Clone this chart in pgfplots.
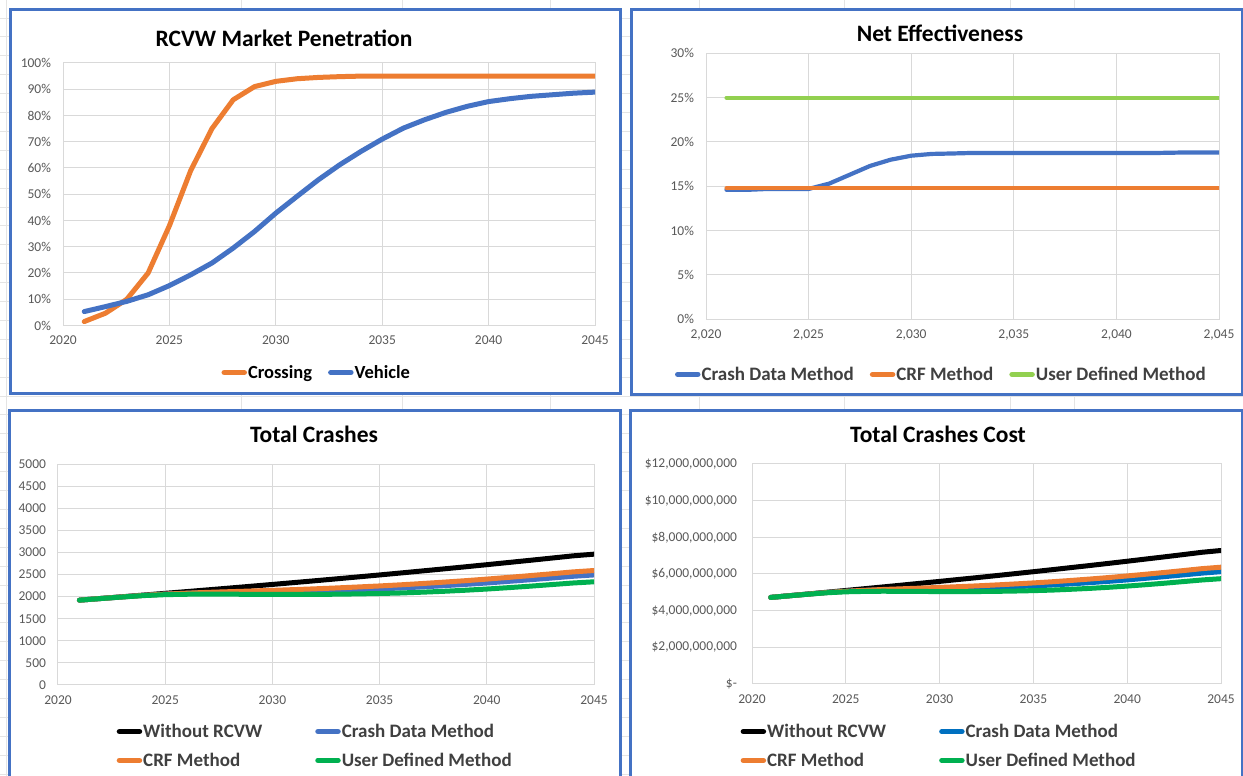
\documentclass[border=0pt]{standalone}
\usepackage{fontspec}
\setmainfont{Carlito}
\usepackage{pgfplots}
\usepackage{pgfplotstable}
\pgfplotsset{compat=1.18}

\definecolor{xlblue}{HTML}{4472C4}
\definecolor{xlorange}{HTML}{ED7D31}
\definecolor{xllime}{HTML}{92D050}
\definecolor{xlgreen}{HTML}{00B050}
\definecolor{xlblue2}{HTML}{0070C0}
\definecolor{gridgray}{HTML}{D9D9D9}
\definecolor{tickgray}{HTML}{595959}
\definecolor{leggray}{HTML}{404040}
\definecolor{sheetgray}{HTML}{E4E4E4}

% market penetration, percent
\pgfplotstableread{
year cross veh
2021 1.5 5.3
2022 4.7 7.2
2023 10.0 9.2
2024 20.0 11.7
2025 38.0 15.2
2026 59.0 19.3
2027 75.0 23.8
2028 86.0 29.5
2029 91.0 35.8
2030 93.0 42.8
2031 94.0 49.2
2032 94.5 55.5
2033 94.8 61.2
2034 95.0 66.3
2035 95.0 71.0
2036 95.0 75.2
2037 95.0 78.4
2038 95.0 81.2
2039 95.0 83.5
2040 95.0 85.3
2041 95.0 86.4
2042 95.0 87.3
2043 95.0 87.9
2044 95.0 88.5
2045 95.0 88.9
}\penetration

% net effectiveness, percent
\pgfplotstableread{
year crash crf user
2021 14.6 14.8 25
2022 14.6 14.8 25
2023 14.7 14.8 25
2024 14.7 14.8 25
2025 14.7 14.8 25
2026 15.3 14.8 25
2027 16.3 14.8 25
2028 17.3 14.8 25
2029 18.0 14.8 25
2030 18.45 14.8 25
2031 18.65 14.8 25
2032 18.7 14.8 25
2033 18.76 14.8 25
2034 18.76 14.8 25
2035 18.76 14.8 25
2036 18.76 14.8 25
2037 18.76 14.8 25
2038 18.76 14.8 25
2039 18.76 14.8 25
2040 18.76 14.8 25
2041 18.76 14.8 25
2042 18.76 14.8 25
2043 18.8 14.8 25
2044 18.8 14.8 25
2045 18.8 14.8 25
}\effect

% total crashes per year
\pgfplotstableread{
year without crash crf user
2021 1920 1920 1920 1920
2022 1958 1957 1957 1956
2023 1996 1993 1993 1991
2024 2035 2028 2028 2023
2025 2074 2056 2056 2044
2026 2113 2076 2077 2053
2027 2153 2090 2096 2057
2028 2193 2097 2111 2054
2029 2234 2103 2126 2052
2030 2275 2108 2141 2049
2031 2317 2117 2158 2049
2032 2359 2128 2176 2050
2033 2402 2141 2196 2054
2034 2446 2157 2218 2061
2035 2490 2175 2241 2070
2036 2535 2195 2267 2082
2037 2581 2220 2296 2100
2038 2627 2247 2327 2120
2039 2674 2276 2360 2144
2040 2722 2308 2396 2171
2041 2771 2344 2434 2202
2042 2820 2381 2474 2235
2043 2870 2419 2515 2271
2044 2921 2459 2558 2307
2045 2960 2490 2590 2335
}\crashes

% total crash cost, billions of dollars
\pgfplotstableread{
year without crash crf user
2021 4.723 4.723 4.723 4.723
2022 4.817 4.814 4.814 4.812
2023 4.910 4.903 4.903 4.898
2024 5.006 4.989 4.989 4.977
2025 5.102 5.058 5.058 5.028
2026 5.198 5.107 5.109 5.050
2027 5.296 5.141 5.156 5.060
2028 5.395 5.159 5.193 5.053
2029 5.496 5.173 5.230 5.048
2030 5.597 5.186 5.267 5.041
2031 5.700 5.208 5.309 5.041
2032 5.803 5.235 5.353 5.043
2033 5.909 5.267 5.402 5.053
2034 6.017 5.306 5.456 5.070
2035 6.125 5.351 5.513 5.092
2036 6.236 5.400 5.577 5.122
2037 6.349 5.461 5.648 5.166
2038 6.462 5.528 5.724 5.215
2039 6.578 5.599 5.806 5.274
2040 6.696 5.678 5.894 5.341
2041 6.817 5.766 5.988 5.417
2042 6.937 5.857 6.086 5.498
2043 7.060 5.951 6.187 5.587
2044 7.186 6.049 6.293 5.675
2045 7.282 6.125 6.371 5.744
}\cost

\pgfplotsset{
  xlchart/.style={
    scale only axis,
    xmin=2020, xmax=2045, xtick={2020,2025,...,2045},
    ymin=0,
    grid=major,
    major grid style={draw=gridgray, line width=1pt},
    axis line style={draw=gridgray, line width=1pt},
    tick style={draw=none},
    scaled ticks=false,
    /pgf/number format/assume math mode=true,
    xticklabel style={/pgf/number format/1000 sep={}},
    ticklabel style={font=\fontsize{13.5}{15}\selectfont, text=tickgray},
    xticklabel style={yshift=-7pt},
    yticklabel style={xshift=-8.5pt},
    every axis plot/.append style={no markers, line cap=round, line join=round, line width=5pt},
    legend image code/.code={\draw[#1, line width=5.5pt, line cap=round] (2.5pt,0pt) -- (22.5pt,0pt);},
    legend cell align=left,
    legend style={draw=none, fill=none, inner sep=0pt, anchor=center,
      font=\fontsize{19}{21}\selectfont\bfseries, text=leggray,
      nodes={inner sep=1pt},
      /tikz/every even column/.append style={column sep=15pt}},
  },
}

\begin{document}
\begin{tikzpicture}[x=1pt,y=1pt]
\useasboundingbox (0,0) rectangle (1243,776);
\clip (0,0) rectangle (1243,776);
\fill[white] (0,0) rectangle (1243,776);

% worksheet cell grid behind the charts
\foreach \gx in {6.5,241,402.5,550.5,699,844.5,1010.5,1074}
  \draw[sheetgray, line width=0.8pt] (\gx,0) -- (\gx,776);
\foreach \k in {0,...,41}
  \draw[sheetgray, line width=0.8pt] (0,{776-18-18.9*\k}) -- (1243,{776-18-18.9*\k});

% chart frames
\draw[xlblue, line width=3pt, fill=white] (10.8,766) rectangle (620.6,382.7);
\draw[xlblue, line width=3pt, fill=white] (631,766) rectangle (1242.5,381);
\draw[xlblue, line width=3pt, fill=white] (9,365) rectangle (620.6,-20);
\draw[xlblue, line width=3pt, fill=white] (630,365.5) rectangle (1242.5,-20);

% titles
\node[font=\fontsize{23.5}{25}\selectfont\bfseries] at (284,737.3) {RCVW Market Penetration};
\node[font=\fontsize{23.5}{25}\selectfont\bfseries] at (940,743) {Net Effectiveness};
\node[font=\fontsize{23.5}{25}\selectfont\bfseries] at (314,341.5) {Total Crashes};
\node[font=\fontsize{23.5}{25}\selectfont\bfseries] at (938,341.5) {Total Crashes Cost};

% market penetration
\begin{axis}[xlchart, at={(63pt,450.5pt)}, anchor=south west,
  width=532pt, height=262.5pt,
  ymax=100, ytick={0,10,...,100},
  yticklabel={\pgfmathprintnumber{\tick}\%},
  legend columns=2,
  legend style={at={(0.476,-0.179)}, text=black,
    font=\fontsize{18.5}{20}\selectfont\bfseries}]
\addplot[xlorange] table[x=year, y=cross] {\penetration};
\addlegendentry{Crossing}
\addplot[xlblue] table[x=year, y=veh] {\penetration};
\addlegendentry{Vehicle}
\end{axis}

% net effectiveness
\begin{axis}[xlchart, at={(706pt,456.7pt)}, anchor=south west,
  width=513pt, height=266pt,
  ymax=30, ytick={0,5,...,30},
  yticklabel={\pgfmathprintnumber{\tick}\%},
  xticklabel style={/pgf/number format/1000 sep={,}},
  every axis plot/.append style={line width=4.2pt},
  legend columns=3,
  legend style={at={(0.458,-0.207)}}]
\addplot[xlblue] table[x=year, y=crash] {\effect};
\addlegendentry{Crash Data Method}
\addplot[xlorange] table[x=year, y=crf] {\effect};
\addlegendentry{CRF Method}
\addplot[xllime] table[x=year, y=user] {\effect};
\addlegendentry{User Defined Method}
\end{axis}

% total crashes
\begin{axis}[xlchart, at={(58pt,91pt)}, anchor=south west,
  width=536pt, height=221pt,
  ymax=5000, ytick={0,500,...,5000},
  yticklabel style={/pgf/number format/1000 sep={}},
  legend columns=2,
  legend style={at={(0.479,-0.276)}, /tikz/row sep=12pt,
    /tikz/every even column/.append style={column sep=52pt}}]
\addplot[black] table[x=year, y=without] {\crashes};
\addlegendentry{Without RCVW}
\addplot[xlblue] table[x=year, y=crash] {\crashes};
\addlegendentry{Crash Data Method}
\addplot[xlorange] table[x=year, y=crf] {\crashes};
\addlegendentry{CRF Method}
\addplot[xlgreen] table[x=year, y=user] {\crashes};
\addlegendentry{User Defined Method}
\end{axis}

% total crash cost
\begin{axis}[xlchart, at={(752pt,92pt)}, anchor=south west,
  width=469pt, height=220pt,
  ymax=12, ytick={0,2,...,12},
  yticklabels={\$-\hspace{7pt},{\$2,000,000,000},{\$4,000,000,000},{\$6,000,000,000},{\$8,000,000,000},{\$10,000,000,000},{\$12,000,000,000}},
  yticklabel style={xshift=-3pt},
  legend columns=2,
  legend style={at={(0.398,-0.282)}, /tikz/row sep=12pt,
    /tikz/every even column/.append style={column sep=52pt}}]
\addplot[black] table[x=year, y=without] {\cost};
\addlegendentry{Without RCVW}
\addplot[xlblue2] table[x=year, y=crash] {\cost};
\addlegendentry{Crash Data Method}
\addplot[xlorange] table[x=year, y=crf] {\cost};
\addlegendentry{CRF Method}
\addplot[xlgreen] table[x=year, y=user] {\cost};
\addlegendentry{User Defined Method}
\end{axis}
\end{tikzpicture}
\end{document}
